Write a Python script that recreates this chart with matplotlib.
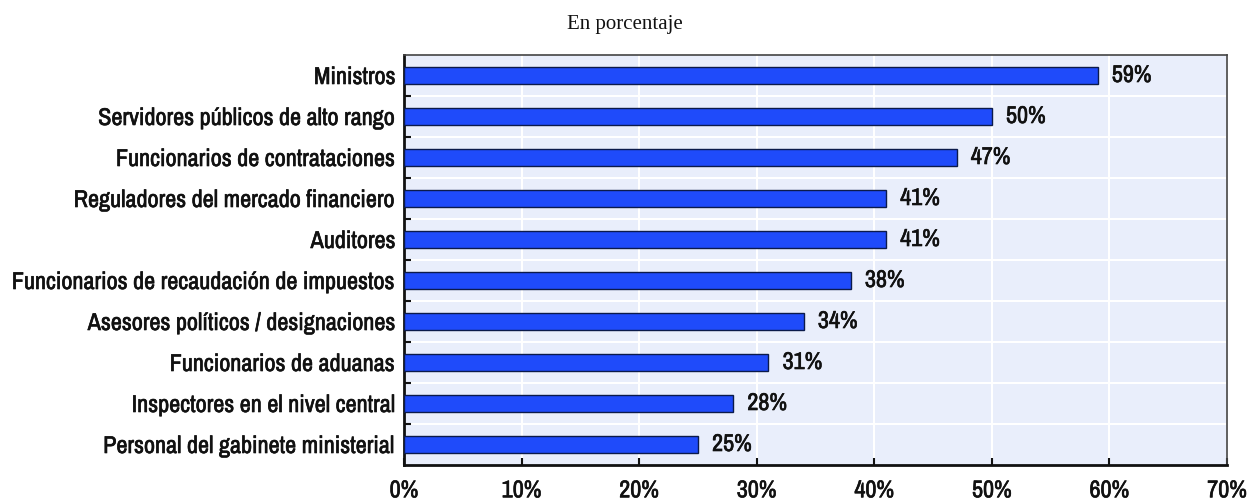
import matplotlib
matplotlib.use("Agg")
import matplotlib.pyplot as plt
import matplotlib.patheffects as pe
from matplotlib import font_manager as fm
from matplotlib.ticker import FixedLocator

categories = [
    "Ministros",
    "Servidores públicos de alto rango",
    "Funcionarios de contrataciones",
    "Reguladores del mercado financiero",
    "Auditores",
    "Funcionarios de recaudación de impuestos",
    "Asesores políticos / designaciones",
    "Funcionarios de aduanas",
    "Inspectores en el nivel central",
    "Personal del gabinete ministerial",
]
values = [59, 50, 47, 41, 41, 38, 34, 31, 28, 25]
xticks = [0, 10, 20, 30, 40, 50, 60, 70]
xtick_labels = [f"{t}%" for t in xticks]
subtitle = "En porcentaje"

names = {f.name for f in fm.fontManager.ttflist}
preferred = ["Liberation Sans Narrow", "Arial Narrow", "Archivo Narrow",
             "Roboto Condensed", "PT Sans Narrow", "IBM Plex Sans Condensed",
             "Liberation Sans"]
narrow = next(n for n in preferred if n in names)
ink = "#111111"
heavy = [pe.withStroke(linewidth=0.45, foreground=ink)]

W, H = 1250, 499
fig = plt.figure(figsize=(W / 100, H / 100), dpi=100)
ax = fig.add_axes([404 / W, 1 - 465 / H, 823 / W, 410 / H])

# size the label font so the longest category spans about 384 px
renderer = fig.canvas.get_renderer()
probe = fig.text(0, 0, max(categories, key=len), fontsize=15,
                 fontweight="bold", family=narrow)
w15 = probe.get_window_extent(renderer).width
probe.remove()
fs = 15 * 383 / w15

bar_color = "#1F4BFA"
edge_color = "#0B1A4A"
bg_color = "#E9EEFB"

ax.set_facecolor(bg_color)
y = list(range(len(categories)))
ax.barh(y, values, height=0.41, color=bar_color, edgecolor=edge_color,
        linewidth=1.0, zorder=3)

for yi, v in zip(y, values):
    ax.text(v + 1.2, yi, f"{v}%", va="center", ha="left", fontsize=fs,
            fontweight="bold", family=narrow, color=ink, path_effects=heavy)

ax.set_xlim(0, 70)
ax.set_ylim(len(categories) - 0.5, -0.5)
ax.set_xticks(xticks)
ax.set_xticklabels(xtick_labels, fontsize=fs, fontweight="bold", family=narrow,
                   color=ink, path_effects=heavy)
ax.set_yticks(y)
ax.set_yticklabels(categories, fontsize=fs, fontweight="bold", family=narrow,
                   color=ink, path_effects=heavy)

# boundaries between categories: gridlines and small inward ticks
bounds = [i + 0.5 for i in range(len(categories) - 1)]
ax.yaxis.set_minor_locator(FixedLocator(bounds))
ax.tick_params(axis="y", which="major", length=0, pad=6)
ax.tick_params(axis="y", which="minor", length=5, width=1.5, direction="in",
               color=ink)
ax.tick_params(axis="x", which="major", length=5, width=1.5, direction="in",
               color=ink, pad=11)

ax.grid(True, axis="x", which="major", color="white", linewidth=1.5, zorder=1)
ax.grid(True, axis="y", which="minor", color="white", linewidth=1.5, zorder=1)
ax.set_axisbelow(True)

for side in ("left", "bottom"):
    ax.spines[side].set_linewidth(2.0)
    ax.spines[side].set_color(ink)
for side in ("top", "right"):
    ax.spines[side].set_linewidth(1.2)
    ax.spines[side].set_color("#444444")

fig.text(0.5, 1 - 25 / H, subtitle, ha="center", va="center",
         fontsize=15, family="Liberation Serif", color=ink)

fig.savefig("out.png", dpi=100)
